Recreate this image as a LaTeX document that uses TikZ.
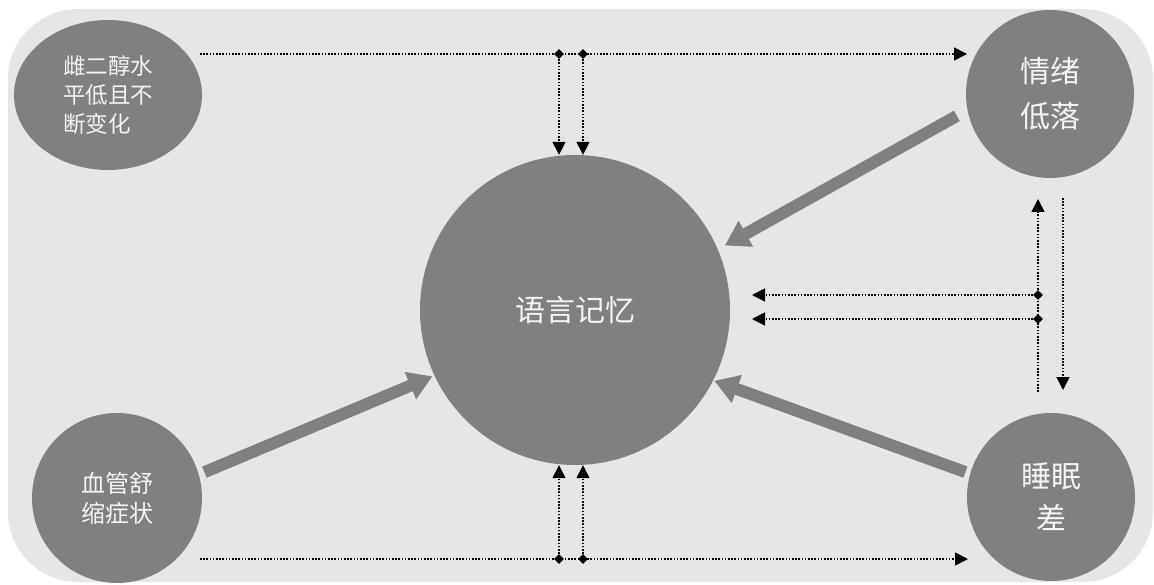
\documentclass[tikz,border=0pt]{standalone}
\usepackage{fontspec}
\newfontfamily\cjk{Noto Sans CJK SC}
\usetikzlibrary{arrows.meta,shapes.geometric}
\definecolor{bgcol}{HTML}{E6E6E6}
\definecolor{nodecol}{HTML}{808080}
\definecolor{txtcol}{HTML}{F4F4F4}
\begin{document}
\begin{tikzpicture}[x=1pt,y=-1pt,
  bubble/.style={circle, fill=nodecol, inner sep=0pt, text=txtcol, align=center},
  bigarrow/.style={draw=nodecol, line width=12pt, -{Triangle[width=28pt,length=24pt]}},
  dotarrow/.style={draw=black, line width=1.6pt, dash pattern=on 1.6pt off 1.6pt, -{Triangle[width=13pt,length=13pt]}},
  junc/.style={diamond, fill=black, inner sep=0pt, minimum size=10pt}]
\useasboundingbox (0,0) rectangle (1154,585);
\fill[bgcol, rounded corners=70pt] (8,9) rectangle (1153,582);

% nodes
\node[bubble, ellipse, minimum width=188pt, minimum height=150pt, align=left,
      font=\cjk\fontsize{22.5pt}{29pt}\selectfont] (tl) at (108,95) {雌二醇水\\平低且不\\断变化};
\node[bubble, minimum size=168pt, font=\cjk\fontsize{30pt}{45pt}\selectfont] (tr) at (1050,94) {情绪\\低落};
\node[bubble, minimum size=168pt, font=\cjk\fontsize{30pt}{42pt}\selectfont] (br) at (1051,497) {睡眠\\差};
\node[bubble, minimum size=170pt, font=\cjk\fontsize{24pt}{30pt}\selectfont] (bl) at (117,498) {血管舒\\缩症状};
\node[bubble, minimum size=310pt, font=\cjk\fontsize{30pt}{36pt}\selectfont] (c) at (575,310) {语言记忆};

% thick arrows
\draw[bigarrow, shorten <=12pt, shorten >=8pt] (tr.191) -- (c.23);
\draw[bigarrow, shorten <=6pt, shorten >=2pt] (bl.16) -- (c.205);
\draw[bigarrow, shorten <=5pt, shorten >=1pt] (br.164) -- (c.333);

% top dotted connectors
\coordinate (tS) at (200,54);
\coordinate (tE) at (967,54);
\draw[dotarrow] (tS) -- (tE);
\node[junc] (tj1) at (559,54) {};
\node[junc] (tj2) at (583,54) {};
\draw[dotarrow] (tj1) -- (tj1 |- c.north);
\draw[dotarrow] (tj2) -- (tj2 |- c.north);

% bottom dotted connectors
\coordinate (bS) at (200,559);
\coordinate (bE) at (968,559);
\draw[dotarrow] (bS) -- (bE);
\node[junc] (bj1) at (559,559) {};
\node[junc] (bj2) at (583,559) {};
\draw[dotarrow] (bj1) -- (bj1 |- c.south);
\draw[dotarrow] (bj2) -- (bj2 |- c.south);

% right dotted connectors
\coordinate (rU1) at (1038,392);
\coordinate (rU2) at (1038,199);
\draw[dotarrow] (rU1) -- (rU2);
\coordinate (rD1) at (1063,198);
\coordinate (rD2) at (1063,390);
\draw[dotarrow] (rD1) -- (rD2);
\node[junc] (rj1) at (1038,295) {};
\node[junc] (rj2) at (1038,319) {};
\coordinate (lt1) at (752,295);
\coordinate (lt2) at (752,319);
\draw[dotarrow] (rj1) -- (lt1);
\draw[dotarrow] (rj2) -- (lt2);
\end{tikzpicture}
\end{document}
